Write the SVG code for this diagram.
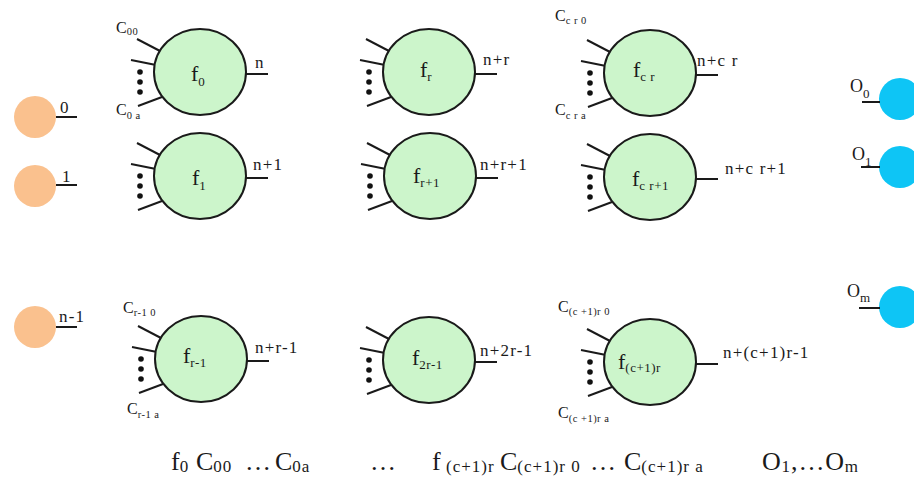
<svg xmlns="http://www.w3.org/2000/svg" xmlns:xlink="http://www.w3.org/1999/xlink" width="914" height="477" viewBox="0 0 914 477">
<style>
.t{font-family:"Liberation Serif","Times New Roman",serif;fill:#1a1a1a}
.body{fill:#ccf5cb;stroke:#1a1a1a;stroke-width:2}
.stub{stroke:#1a1a1a;stroke-width:2;fill:none}
.dot{fill:#111}
.fn{font-size:22px}
.fsub{font-size:13px;letter-spacing:0.5px}
.lab{font-size:17px;letter-spacing:1.2px}
.cc{font-size:16px}
.csub{font-size:10.5px;letter-spacing:0.5px}
.in{fill:#fac18e}
.out{fill:#0ec5f5}
.big{font-size:26px}
.bsub{font-size:17px;letter-spacing:1px}
</style>
<defs>
<g id="nodeShape">
<line class="stub" x1="-63" y1="-33" x2="-40" y2="-21"/>
<line class="stub" x1="-69" y1="-12" x2="-44" y2="-7"/>
<line class="stub" x1="-62" y1="34" x2="-38" y2="25"/>
<circle class="dot" cx="-60" cy="0" r="2.8"/>
<circle class="dot" cx="-60" cy="10" r="2.8"/>
<circle class="dot" cx="-60" cy="20" r="2.8"/>
<line class="stub" x1="44" y1="2" x2="68" y2="2"/>
<ellipse class="body" cx="0" cy="0" rx="46" ry="43"/>
</g>
</defs>
<rect x="0" y="0" width="914" height="477" fill="#ffffff"/>

<g id="connectors"></g>

<g id="in0">
<circle class="in" cx="35" cy="117" r="21"/>
<line class="stub" x1="56" y1="117" x2="77" y2="117"/>
<text class="t lab" x="60" y="113">0</text>
</g>
<g id="in1">
<circle class="in" cx="35" cy="186" r="21"/>
<line class="stub" x1="56" y1="185" x2="77" y2="185"/>
<text class="t lab" x="62" y="182">1</text>
</g>
<g id="inN">
<circle class="in" cx="35" cy="327" r="21"/>
<line class="stub" x1="56" y1="327" x2="77" y2="327"/>
<text class="t lab" x="59" y="322">n-1</text>
</g>

<g id="f0">
<use xlink:href="#nodeShape" href="#nodeShape" x="200" y="72"/>
<text class="t fn" x="191" y="81">f<tspan class="fsub" dy="5">0</tspan></text>
<text class="t lab" x="255" y="68">n</text>
<text class="t cc" x="116" y="33">C<tspan class="csub" dy="2">00</tspan></text>
<text class="t cc" x="116" y="115">C<tspan class="csub" dy="4">0 a</tspan></text>
</g>
<g id="fr">
<use xlink:href="#nodeShape" href="#nodeShape" x="429" y="72"/>
<text class="t fn" x="420" y="77">f<tspan class="fsub" dy="4">r</tspan></text>
<text class="t lab" x="483" y="65">n+r</text>
</g>
<g id="fcr">
<use xlink:href="#nodeShape" href="#nodeShape" x="650" y="73"/>
<text class="t fn" x="633" y="77">f<tspan class="fsub" dy="4">c r</tspan></text>
<text class="t lab" x="697" y="66">n+c r</text>
<text class="t cc" x="555" y="21">C<tspan class="csub" dy="3">c r 0</tspan></text>
<text class="t cc" x="555" y="115">C<tspan class="csub" dy="4">c r  a</tspan></text>
</g>
<g id="f1">
<use xlink:href="#nodeShape" href="#nodeShape" x="200" y="176"/>
<text class="t fn" x="192" y="185">f<tspan class="fsub" dy="5">1</tspan></text>
<text class="t lab" x="253" y="170">n+1</text>
</g>
<g id="fr1">
<use xlink:href="#nodeShape" href="#nodeShape" x="430" y="176"/>
<text class="t fn" x="413" y="183">f<tspan class="fsub" dy="4">r+1</tspan></text>
<text class="t lab" x="480" y="170">n+r+1</text>
</g>
<g id="fcr1">
<use xlink:href="#nodeShape" href="#nodeShape" x="650" y="177"/>
<text class="t fn" x="632" y="186">f<tspan class="fsub" dy="4">c r+1</tspan></text>
<text class="t lab" x="725" y="174">n+c r+1</text>
</g>
<g id="frm1">
<use xlink:href="#nodeShape" href="#nodeShape" x="201" y="359"/>
<text class="t fn" x="183" y="363">f<tspan class="fsub" dy="4">r-1</tspan></text>
<text class="t lab" x="255" y="353">n+r-1</text>
<text class="t cc" x="123" y="313">C<tspan class="csub" dy="3">r-1 0</tspan></text>
<text class="t cc" x="127" y="414">C<tspan class="csub" dy="4">r-1 a</tspan></text>
</g>
<g id="f2rm1">
<use xlink:href="#nodeShape" href="#nodeShape" x="429" y="360"/>
<text class="t fn" x="412" y="365">f<tspan class="fsub" dy="4">2r-1</tspan></text>
<text class="t lab" x="480" y="356">n+2r-1</text>
</g>
<g id="fc1r">
<use xlink:href="#nodeShape" href="#nodeShape" x="650" y="362"/>
<text class="t fn" x="618" y="369">f<tspan class="fsub" dy="3">(c+1)r</tspan></text>
<text class="t lab" x="723" y="358">n+(c+1)r-1</text>
<text class="t cc" x="558" y="312">C<tspan class="csub" dy="3">(c +1)r 0</tspan></text>
<text class="t cc" x="558" y="418">C<tspan class="csub" dy="4">(c +1)r a</tspan></text>
</g>

<g id="o0">
<circle class="out" cx="900" cy="99" r="21"/>
<line class="stub" x1="862" y1="102" x2="880" y2="102"/>
<text class="t" font-size="18" x="850" y="92">O<tspan font-size="13" dy="6">0</tspan></text>
</g>
<g id="o1">
<circle class="out" cx="900" cy="167" r="21"/>
<line class="stub" x1="861" y1="167" x2="880" y2="167"/>
<text class="t" font-size="18" x="852" y="160">O<tspan font-size="13" dy="6">1</tspan></text>
</g>
<g id="om">
<circle class="out" cx="900" cy="307" r="21"/>
<line class="stub" x1="859" y1="308" x2="880" y2="308"/>
<text class="t" font-size="18" x="847" y="297">O<tspan font-size="13" dy="5">m</tspan></text>
</g>

<g id="legend">
<text class="t big" x="171" y="470">f<tspan class="bsub" dy="2">0</tspan></text>
<text class="t big" x="196" y="470">C<tspan class="bsub" dy="2">00</tspan></text>
<text class="t big" x="245" y="470">…</text>
<text class="t big" x="275" y="470">C<tspan class="bsub" dy="2">0a</tspan></text>
<text class="t big" x="370" y="470">…</text>
<text class="t big" x="432" y="470">f<tspan class="bsub" dy="2" x="446">(c+1)r</tspan></text>
<text class="t big" x="500" y="470">C<tspan class="bsub" dy="2">(c+1)r 0</tspan></text>
<text class="t big" x="590" y="470">…</text>
<text class="t big" x="624" y="470">C<tspan class="bsub" dy="2">(c+1)r a</tspan></text>
<text class="t big" x="762" y="470" letter-spacing="0.8">O<tspan class="bsub" dy="2">1</tspan><tspan dy="-2">,…O</tspan><tspan class="bsub" dy="2">m</tspan></text>
</g>
</svg>
